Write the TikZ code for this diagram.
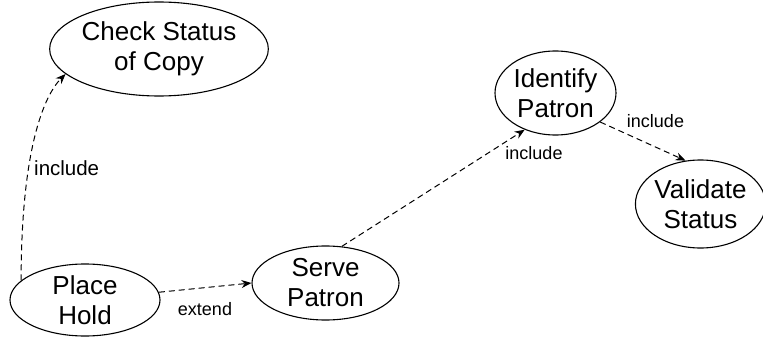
\documentclass[tikz,border=0pt]{standalone}
\usepackage{fontspec}
\setmainfont{Liberation Sans}
\usetikzlibrary{arrows.meta,shapes.geometric}

\tikzset{
  usecase/.style={draw, ellipse, line width=1.1pt, inner sep=0pt,
    align=center, font=\fontsize{26}{30}\selectfont},
  rel/.style={draw, line width=1pt, dash pattern=on 6pt off 4pt,
    -{Stealth[length=10pt,width=8pt]}},
  rellabel/.style={inner sep=0pt, font=\fontsize{18}{20}\selectfont}
}

\begin{document}
\begin{tikzpicture}[x=1pt,y=-1pt]
  \useasboundingbox (0,0) rectangle (763,337);

  % use cases
  \node[usecase, minimum width=194pt, minimum height=94pt] (check) at (159,49) {Check Status\\of Copy};
  \node[usecase, minimum width=150pt, minimum height=72pt] (place) at (85,300) {Place\\Hold};
  \node[usecase, minimum width=147pt, minimum height=74pt] (serve) at (325.5,283) {Serve\\Patron};
  \node[usecase, minimum width=121pt, minimum height=84pt] (identify) at (555.5,93) {Identify\\Patron};
  \node[usecase, minimum width=125pt, minimum height=88pt] (validate) at (700.5,204) {Validate\\Status};

  % relationships
  \draw[rel] (place.163) .. controls +(0,-130) and +(-22,22) .. (check.195);
  \draw[rel] (place.6) -- (serve.west);
  \draw[rel] (serve.66) -- (identify.230);
  \draw[rel] (identify.-33) -- (validate.109);

  % relationship labels
  \node[rellabel, anchor=west, font=\fontsize{20.5}{22}\selectfont] (lincl1) at (34,168) {include};
  \node[rellabel] (lext) at (205,309) {extend};
  \node[rellabel] (lincl2) at (534,153) {include};
  \node[rellabel] (lincl3) at (655.5,121) {include};
\end{tikzpicture}
\end{document}
